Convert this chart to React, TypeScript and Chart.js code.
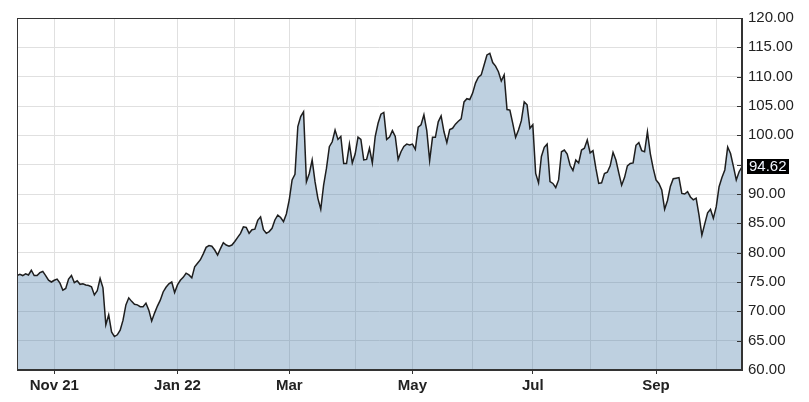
import React, { useEffect, useRef } from 'react';
import { Chart, registerables } from 'chart.js';

Chart.register(...registerables);

// Daily closing prices, one per trading day (mid-Oct 2021 .. mid-Oct 2022)
const closes: number[] = [
  76.1, 76.3, 76.1, 76.4, 76.2, 77.0, 76.1, 76.1, 76.6, 76.8, 76.1, 75.3, 75.0,
  75.3, 75.5, 74.8, 73.6, 73.9, 75.5, 76.1, 74.9, 75.2, 74.6, 74.7, 74.5, 74.4,
  74.2, 72.8, 73.5, 75.6, 74.0, 67.7, 69.4, 66.5, 65.7, 66.0, 66.8, 68.5, 71.1, 72.3, 71.7, 71.2, 71.1,
  70.8, 70.8, 71.4, 70.2, 68.35, 69.7, 70.9, 71.9, 73.3, 74.1, 74.7, 75.0, 73.2, 74.5,
  75.3, 75.8, 76.5, 76.2, 75.7, 77.6, 78.2, 78.8, 79.8, 80.9, 81.2, 81.1, 80.45, 79.6, 80.7, 81.7, 81.3, 81.1, 81.3, 81.9,
  82.6, 83.3, 84.4, 84.3, 83.3, 83.9, 84.0, 85.5, 86.1, 83.9, 83.3, 83.6,
  84.15, 85.57, 86.4, 86.0, 85.3, 86.6, 88.98, 92.4, 93.35, 101.5, 103.2, 104.0,
  92.1, 93.5, 95.8, 92.1, 89.26, 87.4, 91.5, 94.4, 98.07, 98.9, 100.9, 99.3, 99.8, 95.2, 95.2, 98.5, 95.3, 96.8, 99.7, 99.3,
  95.8, 95.9, 97.8, 95.3, 99.8, 102.05, 103.6, 103.9, 99.3, 99.7, 100.8, 99.8, 95.9, 97.2, 98.1, 98.5, 98.35, 98.5, 97.6, 101.4,
  101.8, 103.5, 100.8, 95.7, 99.66, 99.66, 102.3, 103.3, 100.6, 98.75, 101.0, 101.2, 101.9, 102.4, 102.8, 105.7, 106.25, 106.1, 107.2, 108.9,
  109.9, 110.3, 111.99, 113.7, 113.98, 112.4, 111.8, 110.85, 109.26, 110.3, 104.4, 104.3, 102.05, 99.66, 100.9, 102.5, 105.7, 105.2, 101.2, 101.8,
  93.5, 91.9, 96.4, 97.95, 98.5, 92.1, 91.8, 91.1, 92.4, 97.2, 97.5, 96.8, 94.9, 94.0, 95.8, 95.3, 97.5, 97.8, 99.2, 97.0,
  97.4, 94.4, 91.8, 91.9, 93.5, 93.7, 94.8, 97.1, 95.8, 93.6, 91.5, 92.8, 94.8, 95.2, 95.3, 98.3, 98.75, 97.4, 97.2, 100.6,
  96.9, 94.4, 92.4, 91.8, 90.7, 87.4, 88.9, 91.3, 92.6, 92.7, 92.8, 90.1, 90.0, 90.4, 89.5, 89.0, 89.3, 86.4, 83.0, 84.9,
  86.8, 87.4, 85.85, 87.8, 91.25, 92.8, 94.1, 98.0, 96.9, 94.7, 92.4, 93.8, 94.62,
];

// Trading-day index of the first session of each month, and the labels shown
const monthStartIdx: number[] = [13, 34, 56, 76, 95, 118, 138, 159, 180, 200, 223, 244];
const monthLabels: string[] = ['Nov 21', '', 'Jan 22', '', 'Mar', '', 'May', '', 'Jul', '', 'Sep', ''];

const Y_MIN = 60;
const Y_MAX = 120;
const Y_STEP = 5;

const FONT = '"Liberation Sans", Arial, Helvetica, sans-serif';

export default function App() {
  const ref = useRef<HTMLCanvasElement | null>(null);

  useEffect(() => {
    if (!ref.current) return;
    const last = closes[closes.length - 1];

    const framePlugin = {
      id: 'frameAndLast',
      afterDatasetsDraw(chart: any) {
        const { ctx, chartArea: a, scales } = chart;
        const y = scales.y;
        ctx.save();
        ctx.strokeStyle = '#333';
        ctx.lineWidth = 1;
        y.ticks.forEach((t: any) => {
          const py = Math.round(y.getPixelForValue(t.value)) + 0.5;
          ctx.beginPath();
          ctx.moveTo(a.right - 5, py);
          ctx.lineTo(a.right, py);
          ctx.stroke();
        });
        ctx.strokeRect(
          Math.round(a.left) + 0.5,
          Math.round(a.top) + 0.5,
          Math.round(a.right - a.left) - 1,
          Math.round(a.bottom - a.top) - 1
        );
        ctx.restore();
      },
      afterDraw(chart: any) {
        const { ctx, chartArea: a, scales } = chart;
        const y = scales.y;
        const py = y.getPixelForValue(last);
        const text = last.toFixed(2);
        ctx.save();
        ctx.font = `15px ${FONT}`;
        const w = ctx.measureText(text).width;
        const x0 = a.right + 5;
        ctx.fillStyle = '#000';
        ctx.fillRect(x0, Math.round(py - 8), Math.ceil(w + 4), 15);
        ctx.fillStyle = '#f2f6ff';
        ctx.textBaseline = 'middle';
        ctx.textAlign = 'left';
        ctx.fillText(text, x0 + 2, py);
        ctx.restore();
      },
    };

    const chart = new Chart(ref.current, {
      type: 'line',
      data: {
        datasets: [
          {
            data: closes.map((v, i) => ({ x: i, y: v })),
            borderColor: '#1e1e1e',
            borderWidth: 1.5,
            backgroundColor: 'rgba(70,120,165,0.35)',
            fill: 'start',
            pointRadius: 0,
            tension: 0,
          },
        ],
      },
      options: {
        responsive: false,
        animation: false,
        devicePixelRatio: 1,
        layout: { padding: { left: 17, top: 18, right: 0, bottom: 0 } },
        plugins: {
          legend: { display: false },
          tooltip: { enabled: false },
        },
        scales: {
          x: {
            type: 'linear',
            position: 'bottom',
            min: 0,
            max: closes.length - 1,
            afterBuildTicks: (s: any) => {
              s.ticks = monthStartIdx.map((v) => ({ value: v }));
            },
            afterFit: (s: any) => {
              s.height = 32;
            },
            ticks: {
              autoSkip: false,
              maxRotation: 0,
              minRotation: 0,
              padding: 3,
              color: '#222',
              font: { family: FONT, size: 15, weight: 'bold' },
              callback: (_v: any, idx: number) => monthLabels[idx] ?? '',
            },
            grid: {
              color: '#e0e0e0',
              lineWidth: 1,
              tickLength: 4,
              tickColor: (c: any) => (monthLabels[c.index] ? '#333' : 'rgba(0,0,0,0)'),
            },
            border: { display: true, color: '#333', width: 1 },
          },
          y: {
            position: 'right',
            min: Y_MIN,
            max: Y_MAX,
            afterFit: (s: any) => {
              s.width = 67;
            },
            ticks: {
              stepSize: Y_STEP,
              padding: 6,
              color: '#222',
              font: { family: FONT, size: 15 },
              callback: (v: any) => (Math.abs(Number(v) - last) < 2.5 ? '' : Number(v).toFixed(2)),
            },
            grid: {
              color: '#e0e0e0',
              lineWidth: 1,
              drawTicks: false,
            },
            border: { display: true, color: '#333', width: 1 },
          },
        },
      },
      plugins: [framePlugin],
    } as any);

    return () => chart.destroy();
  }, []);

  return (
    <div style={{ position: 'fixed', left: 0, top: 0, width: 809, height: 402, background: '#fff' }}>
      <canvas ref={ref} width={809} height={402} style={{ display: 'block' }} />
    </div>
  );
}
